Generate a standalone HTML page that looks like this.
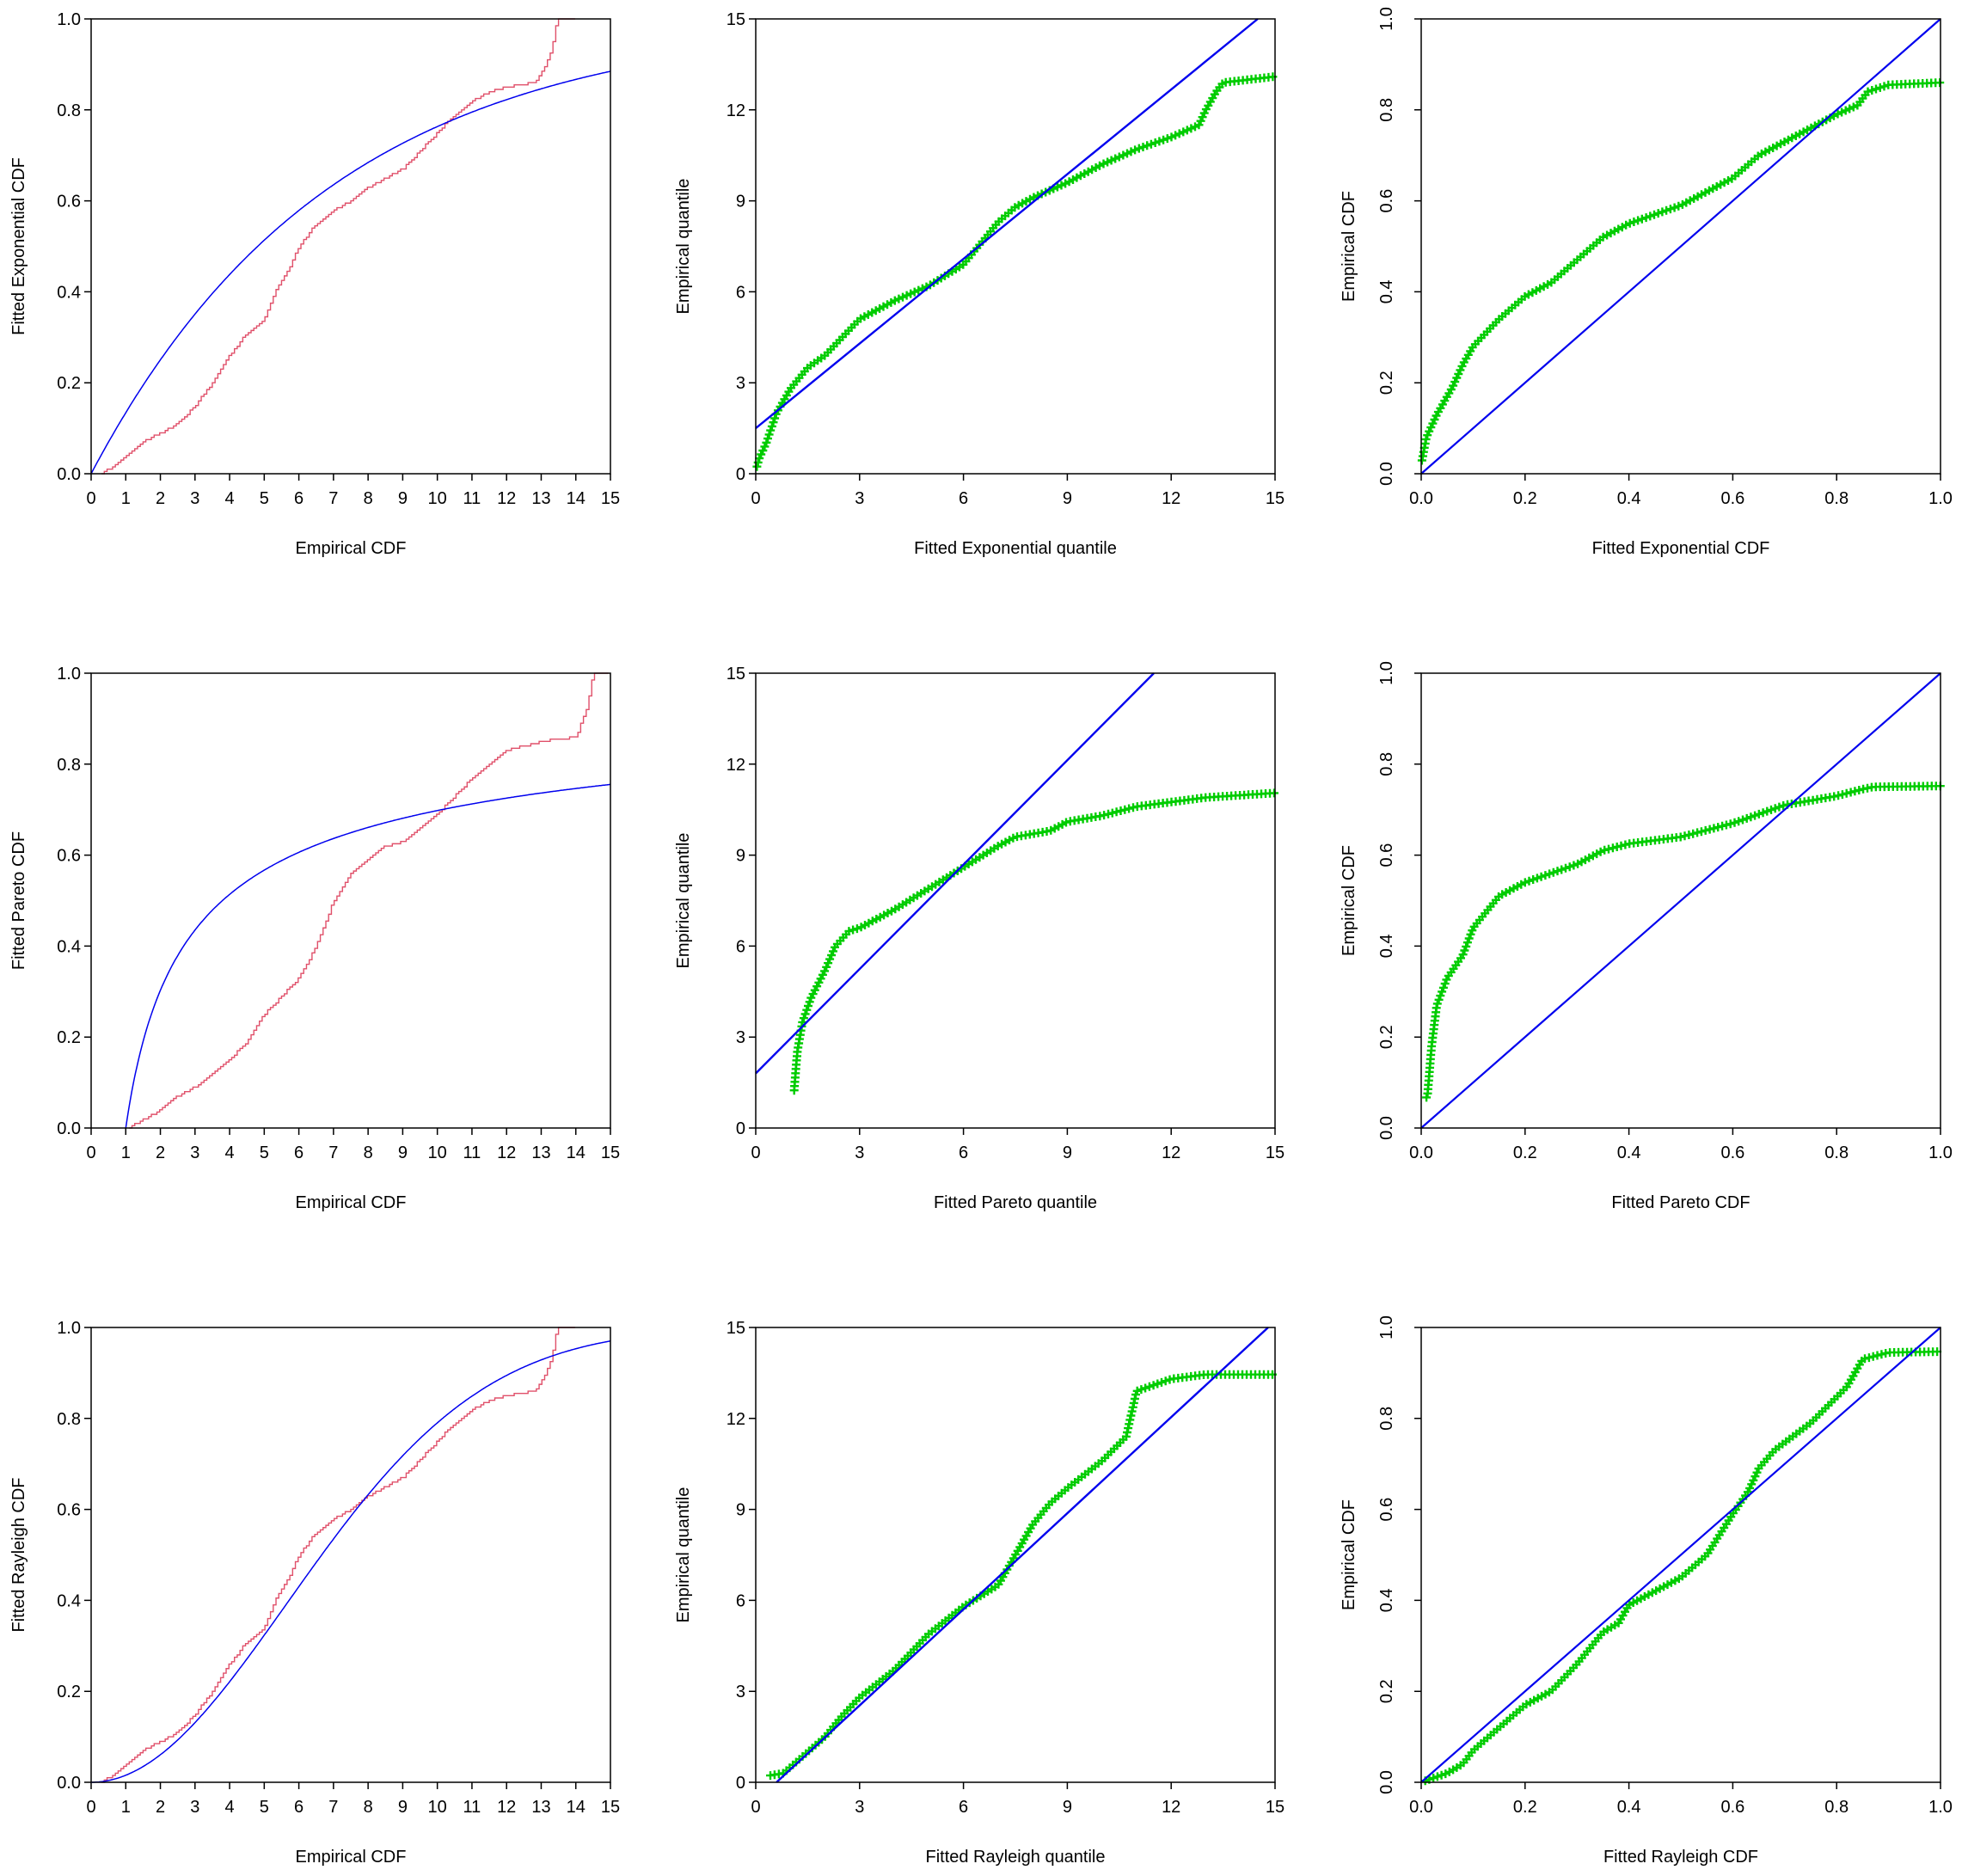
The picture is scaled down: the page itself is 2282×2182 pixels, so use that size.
<!DOCTYPE html>
<html><head><meta charset="utf-8"><style>
html,body{margin:0;padding:0;background:#fff;}
svg{display:block;font-family:"Liberation Sans",Arial,sans-serif;}
</style></head><body>
<svg id="s" width="2282" height="2182" viewBox="0 0 2282 2182" xmlns="http://www.w3.org/2000/svg">
<rect width="2282" height="2182" fill="#fff"/>
</svg>
<script>
const NS="http://www.w3.org/2000/svg", S=document.getElementById('s');
function el(t,a,txt){const e=document.createElementNS(NS,t);for(const k in a)e.setAttribute(k,a[k]);if(txt!==undefined)e.textContent=txt;S.appendChild(e);return e;}
const cols=[106,879,1653], rows=[22,783,1544], W=604, H=529;
function interp(pts,x){if(x<=pts[0][0])return pts[0][1];for(let i=1;i<pts.length;i++){if(x<=pts[i][0]){const a=pts[i-1],b=pts[i];return a[1]+(b[1]-a[1])*(x-a[0])/(b[0]-a[0]);}}return pts[pts.length-1][1];}
function panel(c,r,o){
 const x0=cols[c],y0=rows[r],x1=x0+W,y1=y0+H;
 const X=v=>x0+(v-o.xmin)/(o.xmax-o.xmin)*W, Y=v=>y1-(v-o.ymin)/(o.ymax-o.ymin)*H;
 const g={X,Y,x0,y0,x1,y1};
 let d="";
 o.xt.forEach(t=>{const px=X(t);d+=`M${px} ${y1}v8`;el('text',{x:px,y:y1+35,'font-size':20,'text-anchor':'middle'},o.xf(t));});
 o.yt.forEach(t=>{const py=Y(t);d+=`M${x0} ${py}h-8`;
   if(o.rot){el('text',{x:x0-34,y:py,'font-size':20,'text-anchor':'middle',transform:`rotate(-90 ${x0-34} ${py})`},o.yf(t));}
   else el('text',{x:x0-12,y:py+7,'font-size':20,'text-anchor':'end'},o.yf(t));});
 el('path',{d,stroke:'#000','stroke-width':1.5,fill:'none'});
 el('text',{x:(x0+x1)/2,y:y1+93,'font-size':20,'text-anchor':'middle'},o.xl);
 const lx=x0-78,ly=(y0+y1)/2;
 el('text',{x:lx,y:ly,'font-size':20,'text-anchor':'middle',transform:`rotate(-90 ${lx} ${ly})`},o.yl);
 return g;
}
function box(g){el('rect',{x:g.x0,y:g.y0,width:W,height:H,fill:'none',stroke:'#000','stroke-width':1.5});}
const i15=[...Array(16).keys()], q15=[0,3,6,9,12,15], p1=[0,.2,.4,.6,.8,1];
const f1=v=>v.toFixed(1), fi=v=>String(v);
const red1=[[0.3,0],[0.5,0.01],[1,0.04],[1.5,0.07],[2,0.09],[2.5,0.11],[3,0.15],[3.5,0.2],[4,0.26],[4.5,0.31],[5,0.34],[5.3,0.4],[5.7,0.45],[6,0.5],[6.5,0.55],[7,0.58],[7.5,0.6],[8,0.63],[8.5,0.65],[9,0.67],[9.5,0.71],[10,0.75],[10.5,0.79],[11,0.82],[11.5,0.84],[12,0.85],[12.8,0.86],[13,0.88],[13.3,0.93],[13.45,1.0],[14,1.0]];
const red2=[[1.1,0],[1.3,0.01],[2,0.04],[2.5,0.07],[3,0.09],[3.5,0.12],[4,0.15],[4.5,0.19],[5,0.25],[5.5,0.29],[6,0.33],[6.5,0.4],[7,0.5],[7.5,0.56],[8,0.59],[8.5,0.62],[9,0.63],[9.5,0.66],[10,0.69],[10.5,0.73],[11,0.77],[12,0.83],[13,0.85],[14,0.86],[14.3,0.92],[14.5,1.0],[15,1.0]];
function stepPath(g,pts,xs,xe){let d="",prevy=null;for(let x=xs;x<=xe+1e-9;x+=0.08){let y=interp(pts,x);y=Math.round(y*200)/200;const px=g.X(x),py=g.Y(y);if(prevy===null)d+=`M${px} ${py}`;else d+=`H${px}V${py}`;prevy=py;}return d;}
function curve(g,f,xs,xe){let d="";for(let i=0;i<=400;i++){const x=xs+(xe-xs)*i/400;d+=(i?"L":"M")+g.X(x).toFixed(1)+" "+g.Y(f(x)).toFixed(1);}return d;}
function pluses(g,pts,step){let d="";const P=pts.map(p=>[g.X(p[0]),g.Y(p[1])]);let acc=step;for(let i=1;i<P.length;i++){const a=P[i-1],b=P[i];const L=Math.hypot(b[0]-a[0],b[1]-a[1]);let t=acc>L?L:acc;while(t<=L){const x=a[0]+(b[0]-a[0])*t/L,y=a[1]+(b[1]-a[1])*t/L;d+=`M${(x-5).toFixed(1)} ${y.toFixed(1)}h10M${x.toFixed(1)} ${(y-5).toFixed(1)}v10`;t+=step;}acc=t-L;}
 el('path',{d,stroke:'#00cc00','stroke-width':2.4,fill:'none'});}
function clipLine(g,xa,ya,xb,yb,w){el('line',{x1:g.X(xa),y1:g.Y(ya),x2:g.X(xb),y2:g.Y(yb),stroke:'#0000ee','stroke-width':w});}
const names=['Exponential','Pareto','Rayleigh'];
const fits=[x=>1-Math.exp(-x/6.94), x=>x<1?0:1-Math.pow(x,-0.52), x=>1-Math.exp(-x*x/64)];
const fitStart=[0,1,0];
const reds=[red1,red2,red1];
const qq=[
 [[0,0.1],[0.1,0.5],[0.3,1.0],[0.6,2.0],[1,2.8],[1.5,3.5],[2,3.9],[2.5,4.5],[3,5.1],[3.5,5.4],[4,5.7],[5,6.2],[6,6.9],[7,8.3],[7.5,8.8],[8,9.1],[9,9.6],[10,10.2],[11,10.7],[12,11.1],[12.8,11.5],[13,12],[13.3,12.6],[13.5,12.9],[15,13.1]],
 [[1.1,1.1],[1.2,2.5],[1.35,3.5],[1.6,4.3],[2,5.2],[2.3,6.0],[2.7,6.5],[3,6.6],[4,7.2],[5,7.9],[6,8.6],[7,9.3],[7.5,9.6],[8.5,9.8],[9,10.1],[10,10.3],[11,10.6],[13,10.9],[15,11.05]],
 [[0.3,0.2],[0.8,0.3],[1.5,1.0],[2,1.5],[2.5,2.2],[3,2.8],[4,3.7],[5,4.9],[6,5.8],[7,6.5],[7.5,7.5],[8,8.5],[8.5,9.2],[9,9.7],[10,10.6],[10.7,11.4],[11,12.9],[12,13.3],[13,13.45],[15,13.45]]];
const qqline=[[0,1.5,14.5,15],[0,1.8,11.5,15],[0.6,0,14.8,15]];
const pp=[
 [[0,0.02],[0.01,0.08],[0.03,0.13],[0.06,0.19],[0.08,0.24],[0.1,0.28],[0.15,0.34],[0.2,0.39],[0.25,0.42],[0.3,0.47],[0.35,0.52],[0.4,0.55],[0.5,0.59],[0.6,0.65],[0.65,0.70],[0.7,0.73],[0.8,0.79],[0.84,0.81],[0.86,0.84],[0.9,0.855],[1,0.86]],
 [[0.005,0.06],[0.012,0.07],[0.02,0.18],[0.03,0.27],[0.05,0.33],[0.08,0.38],[0.1,0.44],[0.15,0.51],[0.2,0.54],[0.3,0.58],[0.35,0.61],[0.4,0.625],[0.5,0.64],[0.6,0.67],[0.7,0.71],[0.8,0.73],[0.85,0.745],[0.87,0.75],[1,0.752]],
 [[0,0],[0.05,0.02],[0.08,0.04],[0.1,0.07],[0.15,0.12],[0.2,0.17],[0.25,0.2],[0.3,0.26],[0.35,0.33],[0.38,0.35],[0.4,0.39],[0.45,0.42],[0.5,0.45],[0.55,0.5],[0.6,0.59],[0.63,0.64],[0.65,0.69],[0.68,0.73],[0.75,0.79],[0.82,0.87],[0.85,0.93],[0.9,0.945],[1,0.947]]];
for(let r=0;r<3;r++){
 const n=names[r];
 let g=panel(0,r,{xmin:0,xmax:15,ymin:0,ymax:1,xt:i15,yt:p1,xf:fi,yf:f1,xl:'Empirical CDF',yl:'Fitted '+n+' CDF'});
 el('path',{d:stepPath(g,reds[r],reds[r][0][0],reds[r][reds[r].length-1][0]),stroke:'#e0506a','stroke-width':1.4,fill:'none'});
 el('path',{d:curve(g,fits[r],fitStart[r],15),stroke:'#0000ee','stroke-width':1.5,fill:'none'});
 box(g);
 g=panel(1,r,{xmin:0,xmax:15,ymin:0,ymax:15,xt:q15,yt:q15,xf:fi,yf:fi,xl:'Fitted '+n+' quantile',yl:'Empirical quantile'});
 pluses(g,qq[r],5);
 const L=qqline[r];clipLine(g,L[0],L[1],L[2],L[3],2.4);
 box(g);
 g=panel(2,r,{xmin:0,xmax:1,ymin:0,ymax:1,xt:p1,yt:p1,xf:f1,yf:f1,rot:true,xl:'Fitted '+n+' CDF',yl:'Empirical CDF'});
 pluses(g,pp[r],5);
 clipLine(g,0,0,1,1,2.2);
 box(g);
}
</script>
</body></html>
